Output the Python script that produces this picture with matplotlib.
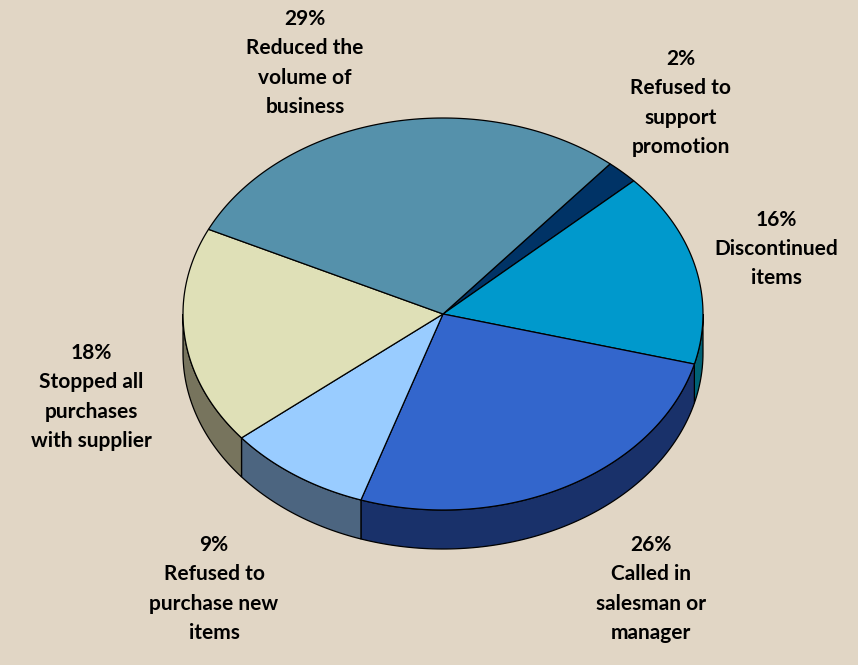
import numpy as np
import matplotlib.pyplot as plt
from matplotlib.patches import Polygon

# slices in drawing order, clockwise from the start angle
labels = [
    "Refused to\nsupport\npromotion",
    "Discontinued\nitems",
    "Called in\nsalesman or\nmanager",
    "Refused to\npurchase new\nitems",
    "Stopped all\npurchases\nwith supplier",
    "Reduced the\nvolume of\nbusiness",
]
shares = [2, 16, 26, 9, 18, 29]

top_colors = ["#003366", "#0099CC", "#3366CC", "#99CCFF", "#DFE0B7", "#5591AB"]
side_colors = ["#00213F", "#006275", "#19316A", "#4C6580", "#77745D", "#36607A"]
label_pos = [(681, 103), (776, 249), (651, 589), (214, 589), (91, 397), (305, 63)]

bg = "#E1D6C5"
plt.rcParams["font.family"] = ["Lato", "DejaVu Sans"]

fig = plt.figure(figsize=(8.58, 6.65), dpi=100, facecolor=bg)
ax = fig.add_axes([0, 0, 1, 1])
ax.set_xlim(0, 858)
ax.set_ylim(665, 0)
ax.axis("off")

cx, cy, rx, ry, depth = 443, 314, 260, 196, 39
start = 40.0


def rim(a0, a1, dy=0.0):
    t = np.radians(np.linspace(a0, a1, max(int(abs(a1 - a0)), 2) + 1))
    return np.column_stack([cx + rx * np.sin(t), cy - ry * np.cos(t) + dy])


angles = start + 360 * np.concatenate([[0], np.cumsum(shares)]) / sum(shares)

# front walls (only the part between 90 and 270 degrees is visible)
for i in range(len(shares)):
    a0, a1 = angles[i], angles[i + 1]
    for off in (0, 360):
        lo, hi = max(a0, 90 + off), min(a1, 270 + off)
        if hi > lo:
            pts = np.vstack([rim(lo, hi), rim(hi, lo, depth)])
            ax.add_patch(Polygon(pts, closed=True, facecolor=side_colors[i],
                                 edgecolor="black", linewidth=0.9, zorder=1))

# top faces
for i in range(len(shares)):
    pts = np.vstack([[cx, cy], rim(angles[i], angles[i + 1])])
    ax.add_patch(Polygon(pts, closed=True, facecolor=top_colors[i],
                         edgecolor="black", linewidth=0.9, zorder=2))

for lab, val, (x, y) in zip(labels, shares, label_pos):
    ax.text(x, y, f"{val}%\n{lab}", ha="center", va="center", ma="center",
            fontsize=15, fontweight="bold", color="black", linespacing=1.58)

fig.savefig("out.png", dpi=100, facecolor=bg)
